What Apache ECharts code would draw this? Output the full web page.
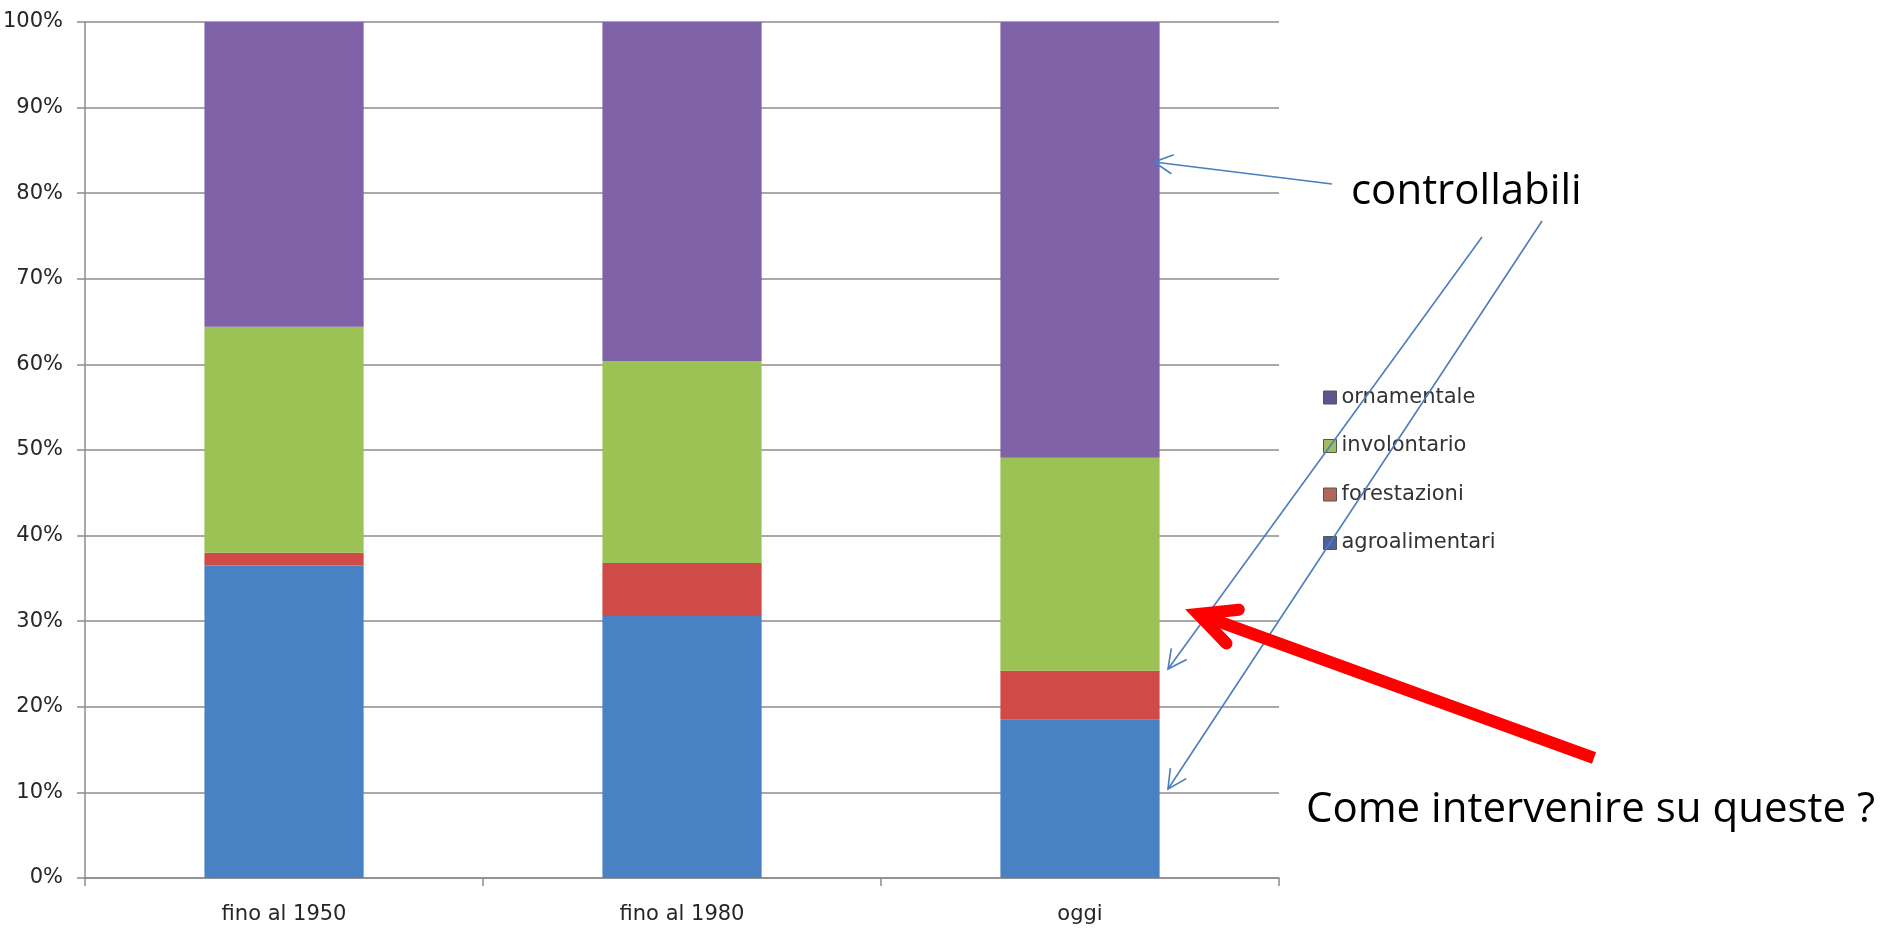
<!DOCTYPE html>
<html>
<head>
<meta charset="utf-8">
<title>Introduzioni per periodo</title>
<script src="https://cdn.jsdelivr.net/npm/echarts@6/dist/echarts.min.js"></script>
<style>
  html, body { margin: 0; padding: 0; background: #ffffff; }
  #chart { width: 1883px; height: 936px; }
</style>
</head>
<body>
<div id="chart"></div>
<script>
// Periods on the category axis
const periods = ['fino al 1950', 'fino al 1980', 'oggi'];

// Share of each introduction pathway (percent of total, stacked to 100)
const agroalimentari = [36.5, 30.6, 18.5];
const forestazioni   = [1.5, 6.2, 5.7];
const involontario   = [26.4, 23.6, 24.9];
const ornamentale    = [35.6, 39.6, 50.9];

// Value axis ticks
const yTicks = [0, 10, 20, 30, 40, 50, 60, 70, 80, 90, 100];

const seriesNames = ['agroalimentari', 'forestazioni', 'involontario', 'ornamentale'];
const seriesData = [agroalimentari, forestazioni, involontario, ornamentale];
const seriesColors = ['#4882c4', '#d04b48', '#9cc155', '#7f62a8'];
const legendIconColors = ['#4f5fa4', '#b5665a', '#a2bd5c', '#5e548f'];

const axisFont = 'DejaVu Sans';
const noteFont = 'Open Sans';

const chart = echarts.init(document.getElementById('chart'), null, { renderer: 'canvas' });

// Open arrow: a shaft plus two wings meeting at the tip
function arrow(from, tip, wingLen, halfAngleDeg, color, width, cap) {
  const back = Math.atan2(from[1] - tip[1], from[0] - tip[0]);
  const a = halfAngleDeg * Math.PI / 180;
  const w1 = [tip[0] + wingLen * Math.cos(back - a), tip[1] + wingLen * Math.sin(back - a)];
  const w2 = [tip[0] + wingLen * Math.cos(back + a), tip[1] + wingLen * Math.sin(back + a)];
  return [
    { type: 'polyline', z: 100, shape: { points: [from, tip] },
      style: { stroke: color, lineWidth: width, fill: null, lineCap: 'butt' } },
    { type: 'polyline', z: 100, shape: { points: [w1, tip, w2] },
      style: { stroke: color, lineWidth: width, fill: null, lineJoin: 'miter', miterLimit: 10, lineCap: cap } }
  ];
}

const blue = '#4a7ebb';
const red = '#ff0000';

const graphics = [].concat(
  arrow([1332, 184], [1154, 162], 21, 27, blue, 1.6, 'butt'),
  arrow([1482, 237], [1168, 669], 21, 27, blue, 1.6, 'butt'),
  arrow([1542, 221], [1168, 789], 21, 27, blue, 1.6, 'butt'),
  arrow([1594, 758], [1198, 614], 41, 26, red, 12, 'round'),
  [
    { type: 'text', z: 100, left: 1351, top: 171,
      style: { text: 'controllabili', fontFamily: noteFont, fontSize: 42, fill: '#000000' } },
    { type: 'text', z: 100, left: 1306, top: 789,
      style: { text: 'Come intervenire su queste ?', fontFamily: noteFont, fontSize: 42, fill: '#000000' } }
  ]
);

chart.setOption({
  backgroundColor: '#ffffff',
  animation: false,
  grid: { left: 83, right: 604, top: 22, bottom: 58, containLabel: false },
  legend: {
    orient: 'vertical',
    left: 1323,
    top: 387,
    padding: 0,
    itemWidth: 13,
    itemHeight: 13,
    itemGap: 27.5,
    icon: 'rect',
    textStyle: { fontFamily: axisFont, fontSize: 21, color: '#333333' },
    data: ['ornamentale', 'involontario', 'forestazioni', 'agroalimentari'].map(function (n) {
      const i = seriesNames.indexOf(n);
      return { name: n, itemStyle: { color: legendIconColors[i], borderColor: '#555555', borderWidth: 1 } };
    })
  },
  xAxis: {
    type: 'category',
    data: periods,
    boundaryGap: true,
    axisLine: { show: true, lineStyle: { color: '#8c8c8c', width: 1.5 } },
    axisTick: { show: true, length: 8, inside: false, alignWithLabel: false,
                lineStyle: { color: '#8c8c8c', width: 1.5 } },
    axisLabel: { margin: 26, fontFamily: axisFont, fontSize: 21, color: '#262626' },
    splitLine: { show: false }
  },
  yAxis: {
    type: 'value',
    min: yTicks[0],
    max: yTicks[yTicks.length - 1],
    interval: yTicks[1] - yTicks[0],
    axisLine: { show: true, lineStyle: { color: '#8c8c8c', width: 1.5 } },
    axisTick: { show: true, length: 8, inside: false, lineStyle: { color: '#8c8c8c', width: 1.5 } },
    axisLabel: { margin: 22, fontFamily: axisFont, fontSize: 21, color: '#262626',
                 formatter: function (v) { return v + '%'; } },
    splitLine: { show: true, lineStyle: { color: '#8c8c8c', width: 1.5 } }
  },
  series: seriesNames.map(function (name, i) {
    return {
      name: name,
      type: 'bar',
      stack: 'total',
      barWidth: '40%',
      data: seriesData[i],
      itemStyle: { color: seriesColors[i] },
      emphasis: { disabled: true }
    };
  }),
  graphic: graphics
});
</script>
</body>
</html>
